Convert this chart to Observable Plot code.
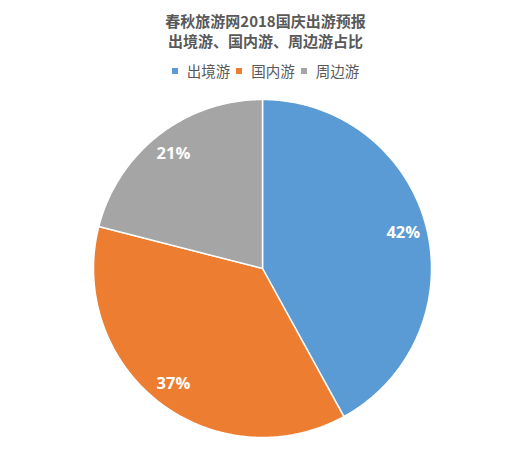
<!DOCTYPE html>
<html>
<head>
<meta charset="utf-8">
<script src="https://cdn.jsdelivr.net/npm/d3@7"></script>
<script src="https://cdn.jsdelivr.net/npm/@observablehq/plot@0.6"></script>
<style>
  body { margin: 0; background: #fff; font-family: "Noto Sans CJK SC", "Noto Sans", sans-serif; }
  #wrap { width: 531px; height: 449px; position: relative; overflow: hidden; }
  #head { position: relative; height: 86px; }
  #title { position: absolute; top: 11px; left: 0; width: 531px; text-align: center;
           font-size: 15px; font-weight: bold; line-height: 19.5px; color: #595959; }
  #legend { position: absolute; top: 61px; left: 0; width: 531px; text-align: center;
            font-size: 14.5px; line-height: 20px; color: #595959; white-space: nowrap; }
  .item { display: inline-block; margin: 0 3px; }
  .sw { display: inline-block; width: 6px; height: 6px; margin-right: 9px; vertical-align: 3px; }
  svg { display: block; }
</style>
</head>
<body>
<div id="wrap">
  <div id="head">
    <div id="title"></div>
    <div id="legend"></div>
  </div>
  <div id="chart"></div>
</div>
<script>
const titleLines = ["春秋旅游网2018国庆出游预报", "出境游、国内游、周边游占比"];
const categories = ["出境游", "国内游", "周边游"];
const shares = [42, 37, 21];
const colors = ["#5B9BD5", "#ED7D31", "#A5A5A5"];

document.getElementById("title").innerHTML = titleLines.join("<br>");
document.getElementById("legend").innerHTML = categories.map((c, i) =>
  `<span class="item"><span class="sw" style="background:${colors[i]}"></span>${c}</span>`).join("");

const total = d3.sum(shares);
const pie = d3.pie().sort(null).value(d => d)(shares);
const pts = [];
const labels = [];
pie.forEach((p, i) => {
  const name = categories[i];
  pts.push({name, x: 0, y: 0});
  const n = Math.max(2, Math.ceil((p.endAngle - p.startAngle) / 0.01));
  for (let k = 0; k <= n; k++) {
    const a = p.startAngle + (p.endAngle - p.startAngle) * k / n;
    pts.push({name, x: Math.sin(a), y: Math.cos(a)});
  }
  pts.push({name, x: 0, y: 0});
  const m = (p.startAngle + p.endAngle) / 2;
  labels.push({name, x: 0.86 * Math.sin(m), y: 0.86 * Math.cos(m), text: Math.round(shares[i] / total * 100) + "%"});
});

const chart = Plot.plot({
  width: 531,
  height: 363,
  marginLeft: 93,
  marginRight: 100,
  marginTop: 13,
  marginBottom: 12,
  x: {domain: [-1, 1], axis: null},
  y: {domain: [-1, 1], axis: null},
  color: {domain: categories, range: colors},
  style: {fontFamily: "'Open Sans', 'Noto Sans', sans-serif", background: "white"},
  marks: [
    Plot.line(pts, {x: "x", y: "y", z: "name", fill: "name", stroke: "white", strokeWidth: 1.5, strokeLinejoin: "round", curve: "linear"}),
    Plot.text(labels, {x: "x", y: "y", text: "text", fill: "white", fontSize: 16.5, fontWeight: "bold"})
  ]
});
document.getElementById("chart").appendChild(chart);
</script>
</body>
</html>
